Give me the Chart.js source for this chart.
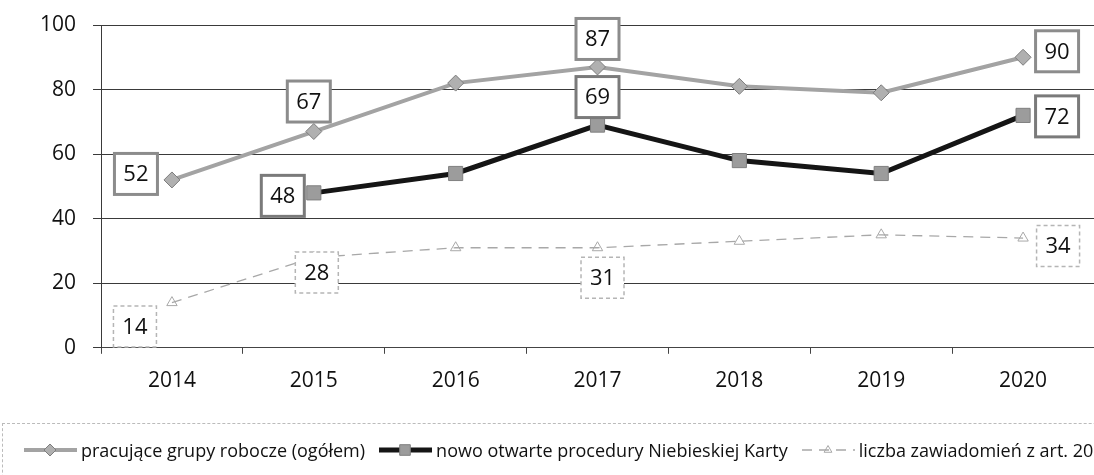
<!DOCTYPE html>
<html>
<head>
<meta charset="utf-8">
<script src="https://cdn.jsdelivr.net/npm/chart.js@4.4.1/dist/chart.umd.min.js"></script>
<style>
  html, body { margin: 0; padding: 0; background: #fff; }
  #wrap { position: relative; width: 1094px; height: 475px; overflow: hidden; }
  #chartBox { position: absolute; left: 0; top: 0; width: 1105px; height: 475px; }
  #legend {
    position: absolute; left: 2px; top: 423px; width: 1300px; height: 60px;
    border-top: 1px dashed #bbb; border-left: 1px dashed #bbb;
    white-space: nowrap; font-family: "Open Sans", sans-serif; font-size: 18px; color: #111;
    padding: 14px 0 0 20px; box-sizing: border-box;
  }
  .item { display: inline-flex; align-items: center; margin-right: 13px; }
  .item canvas { margin-right: 3px; }
</style>
</head>
<body>
<div id="wrap">
  <div id="chartBox"><canvas id="lineChart"></canvas></div>
  <div id="legend"></div>
</div>
<script>
const years = ["2014", "2015", "2016", "2017", "2018", "2019", "2020"];
const grupyRobocze = [52, 67, 82, 87, 81, 79, 90];
const proceduryNK = [null, 48, 54, 69, 58, 54, 72];
const zawiadomienia = [14, 28, 31, 31, 33, 35, 34];
const yTicks = [0, 20, 40, 60, 80, 100];

const seriesNames = [
  "pracujące grupy robocze (ogółem)",
  "nowo otwarte procedury Niebieskiej Karty",
  "liczba zawiadomień z art. 207 kk",
];

// which points get a value box, and where the box sits relative to the point
const labelOffsets = [
  { 0: [-36, -6], 1: [-5, -30], 3: [0, -28], 6: [34, -6] },
  { 1: [-31, 3], 3: [0, -28], 6: [34, 1] },
  { 0: [-37, 24], 1: [3, 15], 3: [5, 30], 6: [35, 8] },
];
const labelBorders = [
  { color: "#8c8c8c", width: 3, dash: [] },
  { color: "#7a7a7a", width: 3, dash: [] },
  { color: "#b5b5b5", width: 1.5, dash: [4, 3] },
];

const valueBoxes = {
  id: "valueBoxes",
  afterDatasetsDraw(chart) {
    const ctx = chart.ctx;
    chart.data.datasets.forEach((ds, di) => {
      const meta = chart.getDatasetMeta(di);
      const offs = labelOffsets[di];
      const st = labelBorders[di];
      Object.keys(offs).forEach((k) => {
        const i = Number(k);
        const pt = meta.data[i];
        const v = ds.data[i];
        if (!pt || v == null) return;
        const cx = pt.x + offs[k][0];
        const cy = pt.y + offs[k][1];
        const w = 43, h = 41;
        ctx.save();
        ctx.fillStyle = "#fff";
        ctx.fillRect(cx - w / 2, cy - h / 2, w, h);
        ctx.strokeStyle = st.color;
        ctx.lineWidth = st.width;
        ctx.setLineDash(st.dash);
        ctx.strokeRect(cx - w / 2, cy - h / 2, w, h);
        ctx.setLineDash([]);
        ctx.fillStyle = "#111";
        ctx.font = "22px 'Open Sans', sans-serif";
        ctx.textAlign = "center";
        ctx.textBaseline = "middle";
        ctx.fillText(String(v), cx, cy + 1);
        ctx.restore();
      });
    });
  },
};

const datasets = [
  {
    label: seriesNames[0],
    data: grupyRobocze,
    borderColor: "#a3a3a3",
    borderWidth: 4,
    pointStyle: "rectRot",
    pointRadius: 8,
    pointBackgroundColor: "#b0b0b0",
    pointBorderColor: "#7d7d7d",
    pointBorderWidth: 1,
  },
  {
    label: seriesNames[1],
    data: proceduryNK,
    borderColor: "#151515",
    borderWidth: 5,
    pointStyle: "rect",
    pointRadius: 10,
    pointBackgroundColor: "#9c9c9c",
    pointBorderColor: "#808080",
    pointBorderWidth: 1,
  },
  {
    label: seriesNames[2],
    data: zawiadomienia,
    borderColor: "#a8a8a8",
    borderWidth: 1.3,
    borderDash: [10, 7],
    pointStyle: "triangle",
    pointRadius: 6,
    pointBackgroundColor: "rgba(255,255,255,0)",
    pointBorderColor: "#a8a8a8",
    pointBorderWidth: 1,
  },
];

const chart = new Chart(document.getElementById("lineChart"), {
  type: "line",
  data: { labels: years, datasets: datasets },
  options: {
    responsive: true,
    maintainAspectRatio: false,
    animation: false,
    layout: { padding: { top: 25, left: 23, right: 0, bottom: 66 } },
    plugins: {
      legend: { display: false },
      tooltip: { enabled: false },
    },
    scales: {
      x: {
        offset: true,
        grid: { display: true, drawOnChartArea: false, offset: true, tickLength: 6, color: "#444" },
        border: { color: "#444" },
        ticks: { color: "#111", padding: 15, font: { family: "Open Sans", size: 21 } },
      },
      y: {
        min: 0,
        max: 100,
        afterBuildTicks: (axis) => { axis.ticks = yTicks.map((v) => ({ value: v })); },
        grid: { color: "#3a3a3a", lineWidth: 1, tickLength: 8 },
        border: { color: "#3a3a3a" },
        ticks: { color: "#111", padding: 17, font: { family: "Open Sans", size: 21, lineHeight: 0.6 } },
      },
    },
  },
  plugins: [valueBoxes],
});

// legend below the chart, built from the datasets
const legendBox = document.getElementById("legend");
chart.data.datasets.forEach((ds) => {
  const item = document.createElement("span");
  item.className = "item";
  const c = document.createElement("canvas");
  c.width = 55; c.height = 20;
  const g = c.getContext("2d");
  g.strokeStyle = ds.borderColor;
  g.lineWidth = ds.borderWidth;
  g.setLineDash(ds.borderDash || []);
  g.beginPath(); g.moveTo(1, 10); g.lineTo(54, 10); g.stroke();
  g.setLineDash([]);
  g.fillStyle = ds.pointBackgroundColor;
  g.strokeStyle = ds.pointBorderColor;
  g.lineWidth = ds.pointBorderWidth;
  Chart.helpers.drawPoint(g, { pointStyle: ds.pointStyle, radius: ds.pointRadius * 0.75, rotation: 0, borderWidth: 1 }, 27, 10);
  item.appendChild(c);
  const t = document.createElement("span");
  t.textContent = ds.label;
  item.appendChild(t);
  legendBox.appendChild(item);
});
</script>
</body>
</html>
